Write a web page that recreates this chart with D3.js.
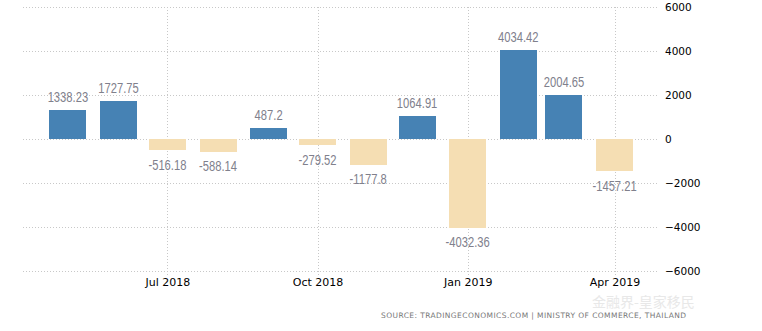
<!DOCTYPE html>
<html><head><meta charset="utf-8">
<script src="https://cdn.jsdelivr.net/npm/d3@7/dist/d3.min.js"></script>
<style>body{margin:0;background:#fff}svg{display:block}</style>
</head><body>
<svg id="c" width="762" height="331"></svg>
<script>
const months = ["2018-05","2018-06","2018-07","2018-08","2018-09","2018-10","2018-11","2018-12","2019-01","2019-02","2019-03","2019-04"];
const values = [1338.23,1727.75,-516.18,-588.14,487.2,-279.52,-1177.8,1064.91,-4032.36,4034.42,2004.65,-1457.21];
const xTicks = ["2018-07","2018-10","2019-01","2019-04"];
const xTickLabels = ["Jul 2018","Oct 2018","Jan 2019","Apr 2019"];
const yTicks = [6000,4000,2000,0,-2000,-4000,-6000];
const source = "SOURCE: TRADINGECONOMICS.COM | MINISTRY OF COMMERCE, THAILAND";
const watermark = "金融界-皇家移民";

const parse = d3.timeParse("%Y-%m");
const svg = d3.select("#c");
const x = d3.scaleTime().domain([new Date(2018,3,3,12), new Date(2019,3,27)]).range([23,657]);
const y = d3.scaleLinear().domain([-6000,6000]).range([271,7]);
const barW = 37;

const grid = svg.append("g").attr("stroke","#c8c8c8").attr("stroke-width",1).attr("stroke-dasharray","1,2");
grid.selectAll("line.h").data(yTicks).join("line")
  .attr("x1",23).attr("x2",657).attr("y1",d=>Math.round(y(d))+0.5).attr("y2",d=>Math.round(y(d))+0.5);
grid.selectAll("line.v").data(xTicks).join("line")
  .attr("x1",d=>Math.round(x(parse(d)))+0.5).attr("x2",d=>Math.round(x(parse(d)))+0.5)
  .attr("y1",7).attr("y2",277);

const data = months.map((m,i)=>({d:parse(m), v:values[i]}));
svg.append("g").selectAll("rect").data(data).join("rect")
  .attr("x",d=>Math.round(x(d.d)-barW/2))
  .attr("width",barW)
  .attr("y",d=>Math.round(y(Math.max(0,d.v))))
  .attr("height",d=>Math.round(Math.abs(y(d.v)-y(0))))
  .attr("fill",d=>d.v>=0?"#4682b4":"#f5deb3");

const labels = svg.append("g").selectAll("text").data(data).join("text")
  .attr("x",d=>x(d.d))
  .attr("y",d=>d.v>=0? y(d.v)-8 : y(d.v)+19.5)
  .attr("text-anchor","middle")
  .attr("font-family","'Liberation Sans',Arial,sans-serif")
  .attr("font-size",14)
  .attr("fill","#80808c")
  .text(d=>d.v);
labels.each(function(){
  const w = this.getComputedTextLength();
  d3.select(this).attr("textLength", w*0.8).attr("lengthAdjust","spacingAndGlyphs");
});

const yAxis = d3.axisRight(y).tickValues(yTicks).tickSize(0).tickPadding(0).tickFormat(d3.format("d"));
const ya = svg.append("g").attr("transform","translate(665,0)").call(yAxis);
ya.select(".domain").remove();
ya.selectAll("text").attr("font-family","'DejaVu Sans',sans-serif").attr("font-size",10.5).attr("fill","#000");

const xAxis = d3.axisBottom(x).tickValues(xTicks.map(parse)).tickSize(0).tickPadding(0)
  .tickFormat((d,i)=>xTickLabels[i]);
const xa = svg.append("g").attr("transform","translate(0,278)").call(xAxis);
xa.select(".domain").remove();
xa.selectAll("text").attr("font-family","'DejaVu Sans',sans-serif").attr("font-size",11).attr("fill","#000");

svg.append("text").attr("x",381).attr("y",317.5).attr("font-family","'DejaVu Sans',sans-serif")
  .attr("font-size",7.5).attr("fill","#777")
  .attr("textLength",305).attr("lengthAdjust","spacing").text(source);

svg.append("text").attr("x",592).attr("y",307).attr("font-family","'Noto Sans CJK SC',sans-serif")
  .attr("font-size",14).attr("fill","#e8e8e8").text(watermark);
</script>
</body></html>
